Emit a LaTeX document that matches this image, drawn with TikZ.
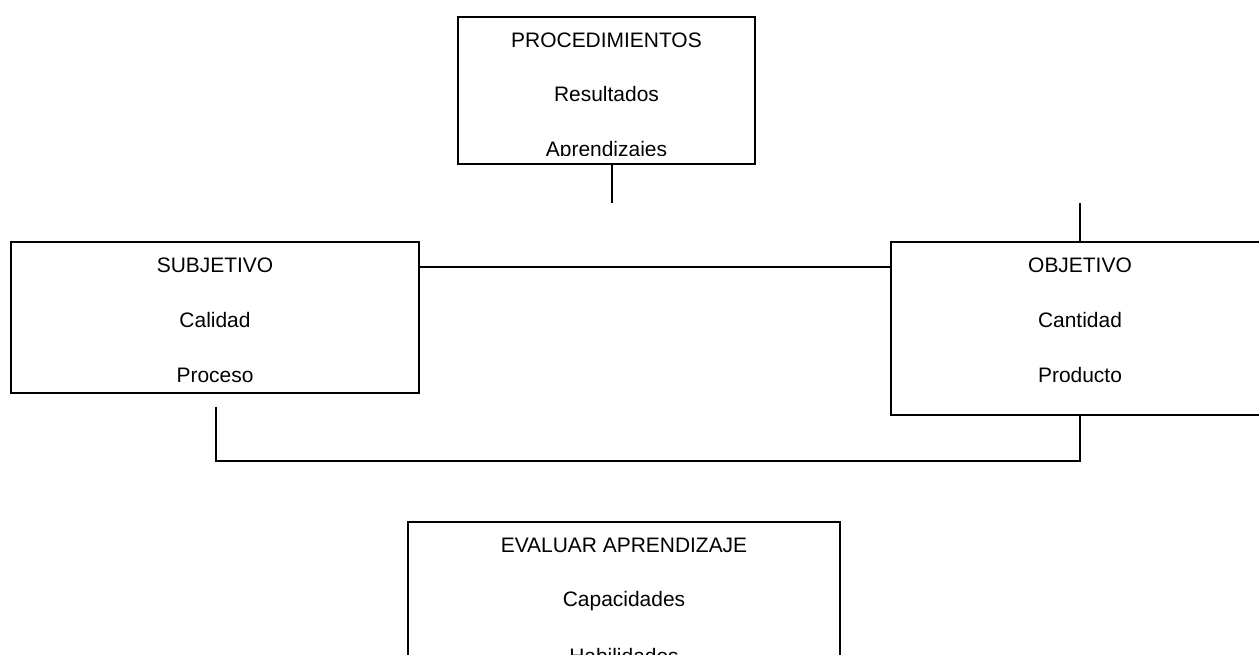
\documentclass[tikz,border=0pt]{standalone}
\usepackage{fontspec}
\setmainfont{Liberation Sans}
\begin{document}
\begin{tikzpicture}[x=0.025cm,y=-0.025cm,line width=1.2pt,
    caja/.style={draw,rectangle,inner sep=0pt},
    texto/.style={anchor=base,inner sep=0pt,font=\fontsize{14.9}{17}\selectfont}]
    \useasboundingbox (0,0) rectangle (1259,655);
    \clip (0,0) rectangle (1259,655);
    %
    \node[caja,minimum width=7.425cm,minimum height=3.675cm] (proc) at (606.5,90.5) {};
    \begin{scope}
        \clip (458,17) rectangle (755,156);
        \node[texto] (proct) at (606.5,48) {PROCEDIMIENTOS};
        \node[texto] (proc1) at (606.5,102) {Resultados};
        \node[texto] (proc2) at (606.5,157) {Aprendizajes};
    \end{scope}
    %
    \node[caja,minimum width=10.2cm,minimum height=3.775cm] (subj) at (215,317.5) {};
    \node[texto] (subjt) at (215,273) {SUBJETIVO};
    \node[texto] (subj1) at (215,328) {Calidad};
    \node[texto] (subj2) at (215,383) {Proceso};
    %
    \node[caja,minimum width=9.45cm,minimum height=4.325cm] (obj) at (1080,328.5) {};
    \node[texto] (objt) at (1080,273) {OBJETIVO};
    \node[texto] (obj1) at (1080,328) {Cantidad};
    \node[texto] (obj2) at (1080,383) {Producto};
    %
    \node[caja,minimum width=10.8cm,minimum height=4.5cm] (eval) at (624,612) {};
    \node[texto] (evalt) at (624,553) {EVALUAR APRENDIZAJE};
    \node[texto] (eval1) at (624,607) {Capacidades};
    \node[texto] (eval2) at (624,664) {Habilidades};
    %
    \coordinate (procpie) at (612,203);
    \coordinate (objcab) at (1080,203);
    \coordinate (subjpie) at (216,407);
    \coordinate (baja) at (0,461);
    \draw (proc.south -| procpie) -- (procpie);
    \draw (objcab) -- (obj.north);
    \draw (subj.east |- 0,267) -- (obj.west |- 0,267);
    \draw (subjpie) -- (subjpie |- baja) -- (obj.south |- baja) -- (obj.south);
\end{tikzpicture}
\end{document}
